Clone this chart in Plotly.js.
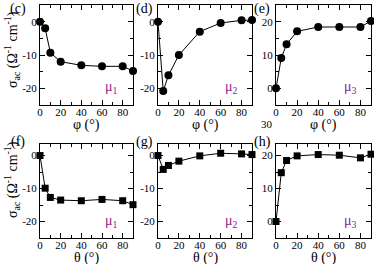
<!DOCTYPE html>
<html><head><meta charset="utf-8">
<script src="https://cdn.plot.ly/plotly-3.0.1.min.js"></script>
<style>html,body{margin:0;padding:0;background:#fff}#c{width:374px;height:264px}</style>
</head><body><div id="c"></div>
<script>
const angles = [0, 5, 10, 20, 40, 60, 80, 90];
const phiMu1 = [0, -2.0, -9.3, -12.0, -13.1, -13.4, -13.4, -14.8];
const phiMu2 = [0, -20.8, -16.1, -10.0, -3.0, -0.4, 0.4, 0.5];
const phiMu3 = [0, 9.1, 13.2, 17.1, 18.4, 18.4, 18.4, 20.2];
const thetaMu1 = [0, -9.9, -12.7, -13.5, -13.7, -13.3, -13.7, -14.9];
const thetaMu2 = [0, -4.2, -3.0, -1.7, -0.1, 0.7, 0.5, 0.3];
const thetaMu3 = [0, 14.8, 18.5, 19.9, 20.3, 20.1, 19.3, 20.4];
const xTicks = [0, 20, 40, 60, 80];
const xTickText = ['0', '20', '40', '60', '80'];
const yTicksNeg = [0, -10, -20];
const yTickTextNeg = ['0', '-10', '-20'];
const yTicksPos = [0, 10, 20];
const yTickTextPos = ['0', '10', '20'];
const panelLabels = ['(c)', '(d)', '(e)', '(f)', '(g)', '(h)'];
const muLabels = ['μ<sub>1</sub>', 'μ<sub>2</sub>', 'μ<sub>3</sub>'];

const W = 374, H = 264;
const F = '"Liberation Serif", "Times New Roman", serif';
const cols = [[40, 133], [158, 252], [276, 371]];
const rows = [[5, 105], [144, 238]];
const series = [phiMu1, phiMu2, phiMu3, thetaMu1, thetaMu2, thetaMu3];
const yRanges = [[-25, 5], [-25, 5], [-5, 25], [-25, 3.5], [-25, 3.5], [-5, 23.5]];

const data = [];
const layout = {width: W, height: H, margin: {l: 0, r: 0, t: 0, b: 0},
  paper_bgcolor: '#fff', plot_bgcolor: '#fff', showlegend: false,
  font: {family: F, color: '#000', size: 11}, annotations: []};

for (let i = 0; i < 6; i++) {
  const r = Math.floor(i / 3), c = i % 3;
  const k = i === 0 ? '' : String(i + 1);
  data.push({x: angles, y: series[i], type: 'scatter', mode: 'lines+markers',
    xaxis: 'x' + k, yaxis: 'y' + k,
    line: {color: '#000', width: 1},
    marker: {color: '#000', size: r === 0 ? 8 : 7, symbol: r === 0 ? 'circle' : 'square'},
    cliponaxis: false});
  const pos = c === 2;
  layout['xaxis' + k] = {domain: [cols[c][0] / W, cols[c][1] / W], range: [0, 90],
    anchor: 'y' + k, showgrid: false, zeroline: false, showline: true, mirror: 'allticks',
    linecolor: '#000', linewidth: 1, ticks: 'inside', ticklen: 5, tickcolor: '#000',
    ticklabelstandoff: -3,
    tickvals: xTicks, ticktext: xTickText, tickfont: {family: F, size: 11, color: '#000'},
    minor: {ticks: 'inside', ticklen: 3, tickvals: [10, 30, 50, 70, 90], tickcolor: '#000'},
    fixedrange: true};
  layout['yaxis' + k] = {domain: [1 - rows[r][1] / H, 1 - rows[r][0] / H], range: yRanges[i],
    anchor: 'x' + k, showgrid: false, zeroline: false, showline: true, mirror: 'allticks',
    linecolor: '#000', linewidth: 1, ticks: 'inside', ticklen: 5, tickcolor: '#000',
    tickvals: pos ? yTicksPos : yTicksNeg, ticktext: pos ? yTickTextPos : yTickTextNeg,
    tickfont: {family: F, size: 11, color: '#000'},
    minor: {ticks: 'inside', ticklen: 3, tickvals: pos ? [-5, 5, 15, 25] : [-25, -15, -5, 5], tickcolor: '#000'},
    fixedrange: true};
  layout.annotations.push({text: panelLabels[i], xref: 'paper', yref: 'paper',
    x: (c === 0 ? 18 : cols[c][0] - 14) / W, y: 1 - (r === 0 ? 9 : 142) / H,
    showarrow: false, font: {family: F, size: 14, color: '#000'}, xanchor: 'center', yanchor: 'middle'});
  layout.annotations.push({text: muLabels[c], xref: 'paper', yref: 'paper',
    x: (cols[c][1] - 21) / W, y: 1 - (r === 0 ? 88 : 221) / H,
    showarrow: false, font: {family: F, size: 14, color: '#8b1a89'}, xanchor: 'center', yanchor: 'middle'});
}
for (let c = 0; c < 3; c++) {
  layout.annotations.push({text: 'φ (°)', xref: 'paper', yref: 'paper',
    x: (cols[c][0] + cols[c][1]) / 2 / W, y: 1 - 125 / H, showarrow: false,
    font: {family: F, size: 14, color: '#000'}, xanchor: 'center', yanchor: 'middle'});
  layout.annotations.push({text: 'θ (°)', xref: 'paper', yref: 'paper',
    x: (cols[c][0] + cols[c][1]) / 2 / W, y: 1 - 258 / H, showarrow: false,
    font: {family: F, size: 14, color: '#000'}, xanchor: 'center', yanchor: 'middle'});
}
for (let r = 0; r < 2; r++) {
  layout.annotations.push({text: 'σ<sub>ac</sub> (Ω<sup>-1</sup> cm<sup>-1</sup>)', xref: 'paper', yref: 'paper',
    x: 12 / W, y: 1 - (r === 0 ? 50 : 180) / H, textangle: -90, showarrow: false,
    font: {family: F, size: 14, color: '#000'}, xanchor: 'center', yanchor: 'middle'});
}
layout.annotations.push({text: '30', xref: 'paper', yref: 'paper', x: 267 / W, y: 1 - 124 / H,
  showarrow: false, font: {family: F, size: 11, color: '#000'}, xanchor: 'center', yanchor: 'middle'});

Plotly.newPlot('c', data, layout, {displayModeBar: false, staticPlot: true});
</script></body></html>
